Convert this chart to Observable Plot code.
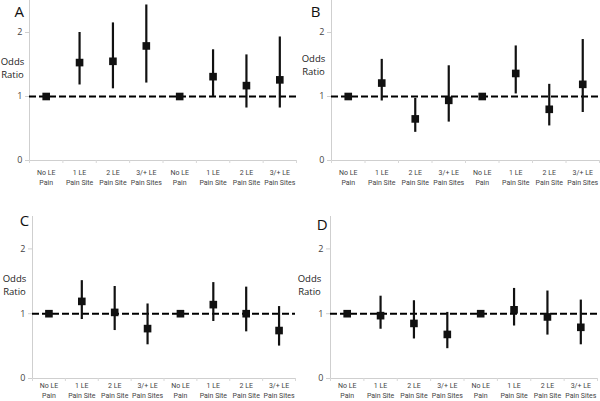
<!DOCTYPE html>
<html><head><meta charset="utf-8">
<script src="https://cdn.jsdelivr.net/npm/d3@7"></script>
<script src="https://cdn.jsdelivr.net/npm/@observablehq/plot@0.6"></script>
<style>
body{margin:0;background:#fff;}
#wrap{position:relative;width:600px;height:401px;overflow:hidden;background:#fff;}
.panel{position:absolute;}
.panel svg{overflow:visible;}
</style></head><body><div id="wrap"></div>
<script>
// Category labels (8 groups, two blocks of 4)
const categories = ["No LE\nPain","1 LE\nPain Site","2 LE\nPain Site","3/+ LE\nPain Sites","No LE\nPain","1 LE\nPain Site","2 LE\nPain Site","3/+ LE\nPain Sites"];
const yTicks = [0, 1, 2];
const yLabelLines = ["Odds", "Ratio"];
const panelNames = ["A", "B", "C", "D"];

// Odds ratios and 95% CI bounds per panel
const orA = [1, 1.53, 1.55, 1.79, 1, 1.31, 1.17, 1.26];
const loA = [null, 1.18, 1.12, 1.21, null, 1.00, 0.82, 0.82];
const hiA = [null, 2.00, 2.15, 2.43, null, 1.73, 1.65, 1.93];

const orB = [1, 1.21, 0.65, 0.94, 1, 1.36, 0.80, 1.19];
const loB = [null, 0.93, 0.44, 0.60, null, 1.04, 0.54, 0.75];
const hiB = [null, 1.58, 0.97, 1.48, null, 1.79, 1.19, 1.89];

const orC = [1, 1.19, 1.02, 0.77, 1, 1.14, 1.00, 0.74];
const loC = [null, 0.91, 0.74, 0.52, null, 0.88, 0.72, 0.50];
const hiC = [null, 1.51, 1.42, 1.15, null, 1.48, 1.41, 1.11];

const orD = [1, 0.97, 0.85, 0.68, 1, 1.06, 0.95, 0.79];
const loD = [null, 0.76, 0.61, 0.46, null, 0.81, 0.67, 0.52];
const hiD = [null, 1.27, 1.20, 1.02, null, 1.39, 1.35, 1.21];

const series = [[orA, loA, hiA], [orB, loB, hiB], [orC, loC, hiC], [orD, loD, hiD]];

// layout of each panel
const layout = [
  {left: 0,   top: 0,   height: 200, ml: 29, mr: 4, mt: 0,  mb: 40, pad: 7.5, lh: 1.43, letter: [-10.3, 11.7], lab: [-17, 61]},
  {left: 300, top: 0,   height: 200, ml: 31, mr: 1, mt: 0,  mb: 40, pad: 7.5, lh: 1.43, letter: [-16, 11.7],   lab: [-18, 58]},
  {left: 0,   top: 200, height: 201, ml: 32, mr: 5, mt: 16, mb: 23, pad: 3.5, lh: 1.3,  letter: [-8, 5],       lab: [-18, 62]},
  {left: 300, top: 200, height: 201, ml: 30, mr: 3, mt: 16, mb: 23, pad: 3.5, lh: 1.3,  letter: [-8.3, 9],     lab: [-21, 62]}
];

const wrap = document.getElementById("wrap");
const idx = d3.range(categories.length);
const bounds = d3.range(categories.length + 1).map(i => i - 0.5);

series.forEach(([or, lo, hi], p) => {
  const L = layout[p];
  const data = idx.map(i => ({i, or: or[i], lo: lo[i], hi: hi[i]}));
  const bars = data.filter(d => d.lo != null);
  const chart = Plot.plot({
    width: 300,
    height: L.height,
    marginLeft: L.ml, marginRight: L.mr, marginTop: L.mt, marginBottom: L.mb,
    style: {fontFamily: "'Open Sans', sans-serif", overflow: "visible", background: "transparent"},
    x: {type: "linear", domain: [-0.5, 7.5], axis: null},
    y: {domain: [0, 2.5], axis: null},
    marks: [
      Plot.ruleX([-0.5], {stroke: "#cfcfcf", strokeWidth: 1}),
      Plot.ruleY([0], {stroke: "#cfcfcf", strokeWidth: 1}),
      Plot.axisY(yTicks, {tickSize: 4, tickPadding: 3, fontSize: 9, stroke: "#cfcfcf", fill: "#444",
        tickFormat: d => String(d), label: null}),
      Plot.axisX(bounds, {tickSize: 3, stroke: "#d8d8d8", tickFormat: () => "", label: null}),
      Plot.axisX(idx, {tickSize: 0, tickPadding: L.pad, fontSize: 7, lineHeight: L.lh, fill: "#444",
        fontFamily: "Roboto, sans-serif", tickFormat: i => categories[i], label: null}),
      Plot.ruleY([1], {stroke: "black", strokeWidth: 2, strokeDasharray: "7,3"}),
      Plot.ruleX(bars, {x: "i", y1: "lo", y2: "hi", stroke: "#111", strokeWidth: 2.2}),
      Plot.dot(data, {x: "i", y: "or", symbol: "square", fill: "#111", r: 4.3}),
      Plot.text([panelNames[p]], {frameAnchor: "top-left", dx: L.letter[0], dy: L.letter[1],
        textAnchor: "middle", lineAnchor: "middle", fontSize: 15, fill: "#111"}),
      ...yLabelLines.map((t, k) => Plot.text([t], {frameAnchor: "top-left", dx: L.lab[0], dy: L.lab[1] + k * 13,
        textAnchor: "middle", lineAnchor: "middle", fontSize: 9.5, fill: "#222"}))
    ]
  });
  const div = document.createElement("div");
  div.className = "panel";
  div.style.left = L.left + "px";
  div.style.top = L.top + "px";
  div.appendChild(chart);
  wrap.appendChild(div);
});
</script>
</body></html>
